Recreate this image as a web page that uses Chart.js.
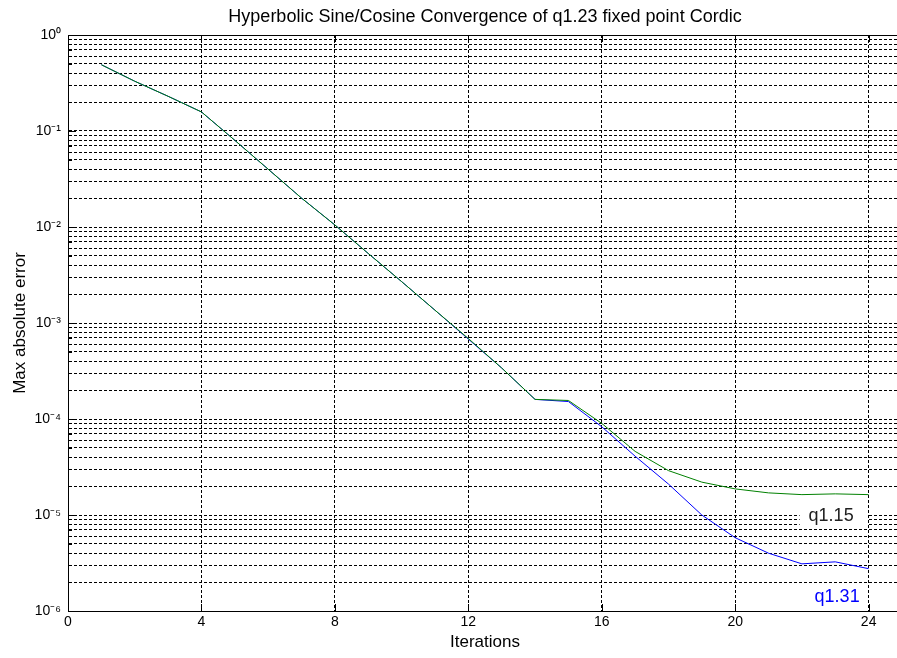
<!DOCTYPE html>
<html>
<head>
<meta charset="utf-8">
<script src="https://cdn.jsdelivr.net/npm/chart.js@4/dist/chart.umd.min.js"></script>
<style>
  html, body { margin: 0; padding: 0; background: #fff; overflow: hidden; }
</style>
</head>
<body>
<canvas id="cordicChart" width="970" height="658"></canvas>
<script>
// Datos
const iterations = [1, 2, 3, 4, 5, 6, 7, 8, 9, 10, 11, 12, 13, 14, 15, 16, 17, 18, 19, 20, 21, 22, 23, 24];
const errQ115 = [0.49, 0.33, 0.23, 0.158, 0.08, 0.04, 0.02, 0.0105, 0.0053, 0.0027, 0.00136, 6.9e-4,
                 3.4e-4, 1.6e-4, 1.56e-4, 9.0e-5, 4.6e-5, 2.9e-5, 2.2e-5, 1.87e-5, 1.7e-5, 1.63e-5, 1.66e-5, 1.63e-5];
const errQ131 = [0.49, 0.33, 0.23, 0.158, 0.08, 0.04, 0.02, 0.0105, 0.0053, 0.0027, 0.00136, 6.8e-4,
                 3.4e-4, 1.6e-4, 1.52e-4, 8.3e-5, 4.1e-5, 2.1e-5, 1.0e-5, 5.8e-6, 4.0e-6, 3.1e-6, 3.25e-6, 2.76e-6];
const seriesNames = ['q1.15', 'q1.31'];
const chartTitle = 'Hyperbolic Sine/Cosine Convergence of q1.23 fixed point Cordic';
const xTicks = [0, 4, 8, 12, 16, 20, 24];
const yDecades = [-6, -5, -4, -3, -2, -1, 0];

// ticks menores del eje log: 1..9 x 10^e
const yTickValues = [];
yDecades.forEach(e => {
  if (e === 0) { yTickValues.push(1); return; }
  for (let m = 1; m <= 9; m++) yTickValues.push(m * Math.pow(10, e));
});
const isDecade = v => Math.abs(Math.log10(v) - Math.round(Math.log10(v))) < 1e-9;
const sup = { '-': '\u207B', '0': '\u2070', '1': '\u00B9', '2': '\u00B2', '3': '\u00B3',
              '4': '\u2074', '5': '\u2075', '6': '\u2076', '7': '\u2077', '8': '\u2078', '9': '\u2079' };
const decadeLabel = v => '10' + String(Math.round(Math.log10(v))).split('').map(c => sup[c]).join('');

const FONT = 'Arial, "Liberation Sans", Helvetica, sans-serif';

// titulo centrado en el area, caja superior, marcas interiores y etiquetas de las curvas
const matlabBox = {
  id: 'matlabBox',
  afterDatasetsDraw(chart) {
    const { ctx, chartArea: a, scales: { x, y } } = chart;
    ctx.save();
    ctx.fillStyle = '#000';
    ctx.font = '18px ' + FONT;
    ctx.textAlign = 'center';
    ctx.textBaseline = 'middle';
    ctx.fillText(chartTitle, (a.left + a.right) / 2, 17);

    ctx.strokeStyle = '#000';
    ctx.lineWidth = 1;
    ctx.beginPath();
    ctx.moveTo(a.left, Math.round(a.top) + 0.5);
    ctx.lineTo(a.right, Math.round(a.top) + 0.5);
    xTicks.forEach(v => {
      const px = Math.round(x.getPixelForValue(v)) + 0.5;
      ctx.moveTo(px, a.bottom); ctx.lineTo(px, a.bottom - 7);
      ctx.moveTo(px, a.top); ctx.lineTo(px, a.top + 7);
    });
    yTickValues.forEach(v => {
      const py = Math.round(y.getPixelForValue(v)) + 0.5;
      const len = isDecade(v) ? 8 : 4;
      ctx.moveTo(a.left, py); ctx.lineTo(a.left + len, py);
    });
    ctx.stroke();

    const labels = [
      { text: seriesNames[0], color: '#202020', x: 22.2, y: 9.7e-6, boxBottom: null },
      { text: seriesNames[1], color: '#0000ff', x: 22.38, y: 1.4e-6, boxBottom: a.bottom - 1 }
    ];
    ctx.font = '18px ' + FONT;
    ctx.textAlign = 'left';
    labels.forEach(l => {
      const tx = x.getPixelForValue(l.x);
      const ty = y.getPixelForValue(l.y);
      const top = ty - 11;
      const bottom = l.boxBottom !== null ? l.boxBottom : ty + 12;
      ctx.fillStyle = '#fff';
      ctx.fillRect(tx - 9, top, x.getPixelForValue(24) - 1 - (tx - 9), bottom - top);
      ctx.fillStyle = l.color;
      ctx.fillText(l.text, tx, ty);
    });
    ctx.restore();
  }
};

const ctx = document.getElementById('cordicChart').getContext('2d');
new Chart(ctx, {
  type: 'line',
  data: {
    labels: iterations,
    datasets: [{
      label: seriesNames[0],
      data: iterations.map((it, i) => ({ x: it, y: errQ115[i] })),
      borderColor: '#008000',
      borderWidth: 1,
      pointRadius: 0,
      fill: false,
      tension: 0
    }, {
      label: seriesNames[1],
      data: iterations.map((it, i) => ({ x: it, y: errQ131[i] })),
      borderColor: '#0000ff',
      borderWidth: 1,
      pointRadius: 0,
      fill: false,
      tension: 0
    }]
  },
  options: {
    responsive: false,
    animation: false,
    layout: { padding: { left: 0, top: 35, bottom: 0, right: 68 } },
    plugins: {
      legend: { display: false },
      tooltip: { enabled: false },
      title: { display: false }
    },
    scales: {
      x: {
        type: 'linear',
        min: 0,
        max: 25,
        afterBuildTicks: s => { s.ticks = xTicks.map(v => ({ value: v })); },
        afterFit: s => { s.height = 47; },
        grid: { color: '#000', lineWidth: 1, drawTicks: false },
        border: { display: true, color: '#000', width: 1, dash: [3, 2] },
        ticks: { color: '#000', font: { family: FONT, size: 14 }, padding: 3, autoSkip: false, maxRotation: 0 },
        title: { display: true, text: 'Iterations', color: '#000', font: { family: FONT, size: 17 }, padding: { top: 0, bottom: 5 } }
      },
      y: {
        type: 'logarithmic',
        min: 1e-6,
        max: 1,
        afterBuildTicks: s => { s.ticks = yTickValues.map(v => ({ value: v })); },
        afterFit: s => { s.width = 68; },
        grid: { color: '#000', lineWidth: 1, drawTicks: false },
        border: { display: true, color: '#000', width: 1, dash: [3, 2] },
        ticks: {
          color: '#000',
          font: { family: FONT, size: 14 },
          padding: 7,
          autoSkip: false,
          callback: v => isDecade(v) ? decadeLabel(v) : ''
        },
        title: { display: true, text: 'Max absolute error', color: '#000', font: { family: FONT, size: 17 }, padding: { top: 10, bottom: 0 } }
      }
    }
  },
  plugins: [matlabBox]
});
</script>
</body>
</html>
